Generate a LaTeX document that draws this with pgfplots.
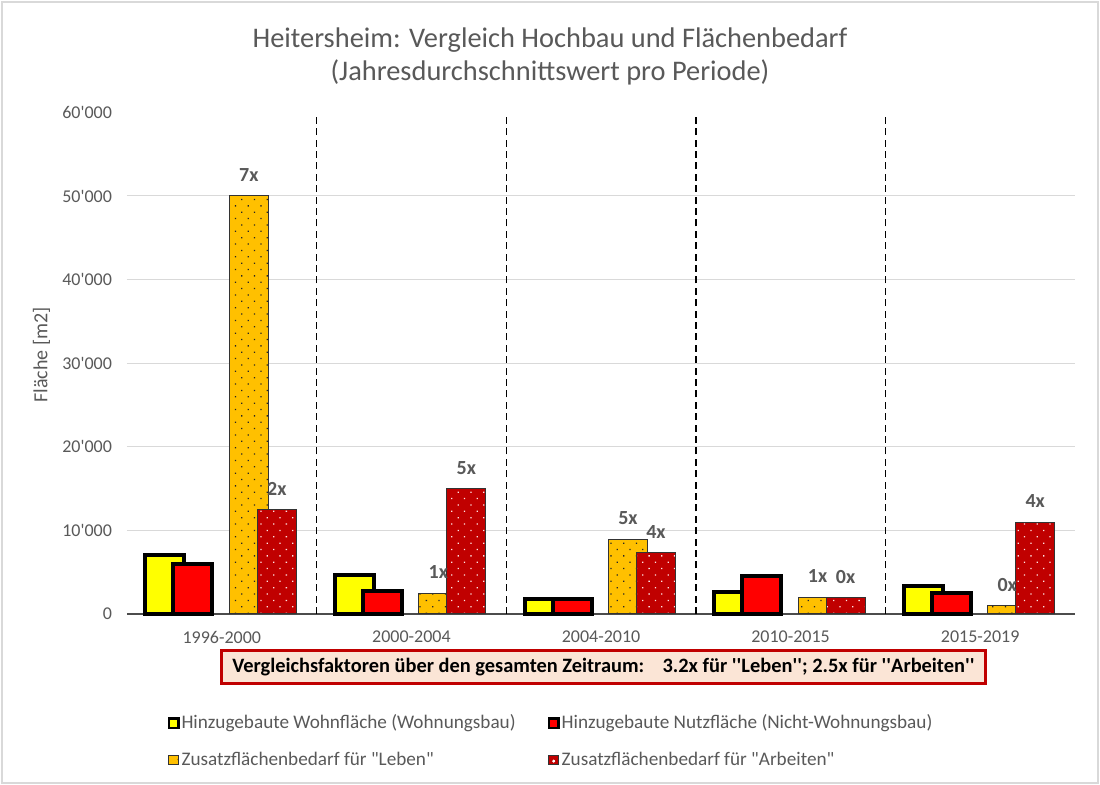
\documentclass[border=0pt]{standalone}
\usepackage{pgfplots}
\pgfplotsset{compat=1.18}
\usetikzlibrary{patterns.meta}
\usepackage{fontspec}
\setmainfont{Carlito}

\definecolor{cyellow}{HTML}{FFFF00}
\definecolor{cred}{HTML}{FF0000}
\definecolor{corange}{HTML}{FFC000}
\definecolor{cdarkred}{HTML}{C00000}
\definecolor{cgray}{HTML}{595959}
\definecolor{cgrid}{HTML}{D9D9D9}
\definecolor{cbox}{HTML}{FBE5D6}

\newcommand{\fs}[1]{\fontsize{#1}{1.2\dimexpr#1pt\relax}\selectfont}

\begin{document}
\begin{tikzpicture}
\path[use as bounding box] (0,0) rectangle (550pt,392.5pt);
\fill[white] (0,0) rectangle (550pt,392.5pt);
\draw[cgrid, line width=0.75pt] (1pt,1pt) rectangle (549pt,391.5pt);

% title
\node[text=cgray, font=\fs{14.2}] at (275pt,372.5pt) {Heitersheim: Vergleich Hochbau und Flächenbedarf};
\node[text=cgray, font=\fs{14.2}] at (275pt,356.5pt) {(Jahresdurchschnittswert pro Periode)};
% y axis title
\node[text=cgray, font=\fs{10}, rotate=90] at (20.75pt,215pt) {Fläche [m2]};

\begin{axis}[
  at={(63.5pt,85.5pt)}, anchor=south west,
  scale only axis, width=474pt, height=250.8pt,
  xmin=-0.5, xmax=4.5, ymin=0, ymax=60000,
  axis x line*=bottom, axis y line*=left,
  y axis line style={draw=none},
  x axis line style={draw=black!70, line width=0.6pt},
  major tick length=0pt, tick style={draw=none},
  xtick={0,1,2,3,4},
  xticklabels={1996-2000,2000-2004,2004-2010,2010-2015,2015-2019},
  ytick={10000,20000,30000,40000,50000},
  extra y ticks={0,60000},
  extra y tick style={grid=none},
  ymajorgrids, grid style={draw=cgrid, line width=0.5pt},
  scaled y ticks=false,
  /pgf/number format/assume math mode=true,
  /pgf/number format/1000 sep={\textquotesingle},
  tick label style={font=\fs{9}, text=cgray},
  yticklabel style={xshift=-4pt},
  xticklabel style={yshift=-5pt},
  clip=false,
  legend columns=2,
  legend cell align=left,
  legend style={draw=none, fill=none, font=\fs{9.6}, text=cgray,
    at={(axis description cs:0.036,-0.184)}, anchor=north west,
    row sep=6pt,
    /tikz/every odd column/.append style={column sep=-1pt},
    /tikz/every even column/.append style={column sep=14pt}},
]
\addplot[ybar, bar width=19.5pt, bar shift=-28.5pt, fill=cyellow, draw=black, line width=2pt,
  legend image code/.code={\draw[fill=cyellow, draw=black, line width=1.2pt] (0pt,-2.4pt) rectangle (4.8pt,2.4pt);}]
  coordinates {(0,7100) (1,4700) (2,1800) (3,2600) (4,3400)};
\addlegendentry{Hinzugebaute Wohnfläche (Wohnungsbau)}

\addplot[ybar, bar width=19.5pt, bar shift=-14.5pt, fill=cred, draw=black, line width=2pt,
  legend image code/.code={\draw[fill=cred, draw=black, line width=1.2pt] (0pt,-2.4pt) rectangle (4.8pt,2.4pt);}]
  coordinates {(0,6000) (1,2800) (2,1750) (3,4600) (4,2500)};
\addlegendentry{Hinzugebaute Nutzfläche (Nicht-Wohnungsbau)}

\addplot[ybar, bar width=19.5pt, bar shift=13.5pt, fill=corange, draw=black!80, line width=0.5pt,
  postaction={pattern={Dots[distance=4.5pt, radius=0.45pt, angle=45]}, pattern color=black!85},
  nodes near coords, point meta=explicit symbolic,
  nodes near coords style={font=\bfseries\fs{10}, text=cgray, anchor=center, xshift=13.5pt, yshift=10.5pt},
  legend image code/.code={\draw[fill=corange, draw=black!80, line width=0.5pt] (0pt,-2.4pt) rectangle (4.8pt,2.4pt);}]
  coordinates {(0,50000) [7x] (1,2500) [1x] (2,8900) [5x] (3,2000) [1x] (4,1000) [0x]};
\addlegendentry{Zusatzflächenbedarf für \textquotedbl Leben\textquotedbl}

\addplot[ybar, bar width=19.5pt, bar shift=27.5pt, fill=cdarkred, draw=black!80, line width=0.5pt,
  postaction={pattern={Dots[distance=4.5pt, radius=0.45pt, angle=45]}, pattern color=white!90!red},
  nodes near coords, point meta=explicit symbolic,
  nodes near coords style={font=\bfseries\fs{10}, text=cgray, anchor=center, xshift=27.5pt, yshift=10.5pt},
  legend image code/.code={\draw[fill=cdarkred, draw=black!80, line width=0.5pt] (0pt,-2.4pt) rectangle (4.8pt,2.4pt); \fill[white] (2.4pt,-0.6pt) circle (0.4pt);}]
  coordinates {(0,12500) [2x] (1,15000) [5x] (2,7300) [4x] (3,1950) [0x] (4,11000) [4x]};
\addlegendentry{Zusatzflächenbedarf für \textquotedbl Arbeiten\textquotedbl}

\foreach \xx in {0.5,1.5,2.5,3.5} {
  \edef\temp{\noexpand\draw[black, line width=0.7pt, dash pattern=on 3.5pt off 2.2pt] (axis cs:\xx,0) -- (axis cs:\xx,60000);}
  \temp
}
\end{axis}

% comparison box
\node[draw=cdarkred, line width=1.5pt, fill=cbox, minimum width=382pt, minimum height=16.5pt,
  inner sep=0pt, font=\bfseries\fs{10.2}, text=black] at (301.75pt,59pt)
  {Vergleichsfaktoren über den gesamten Zeitraum:\hspace{0.9em}3.2x für \textquotesingle\textquotesingle Leben\textquotesingle\textquotesingle; 2.5x für \textquotesingle\textquotesingle Arbeiten\textquotesingle\textquotesingle};
\end{tikzpicture}
\end{document}
